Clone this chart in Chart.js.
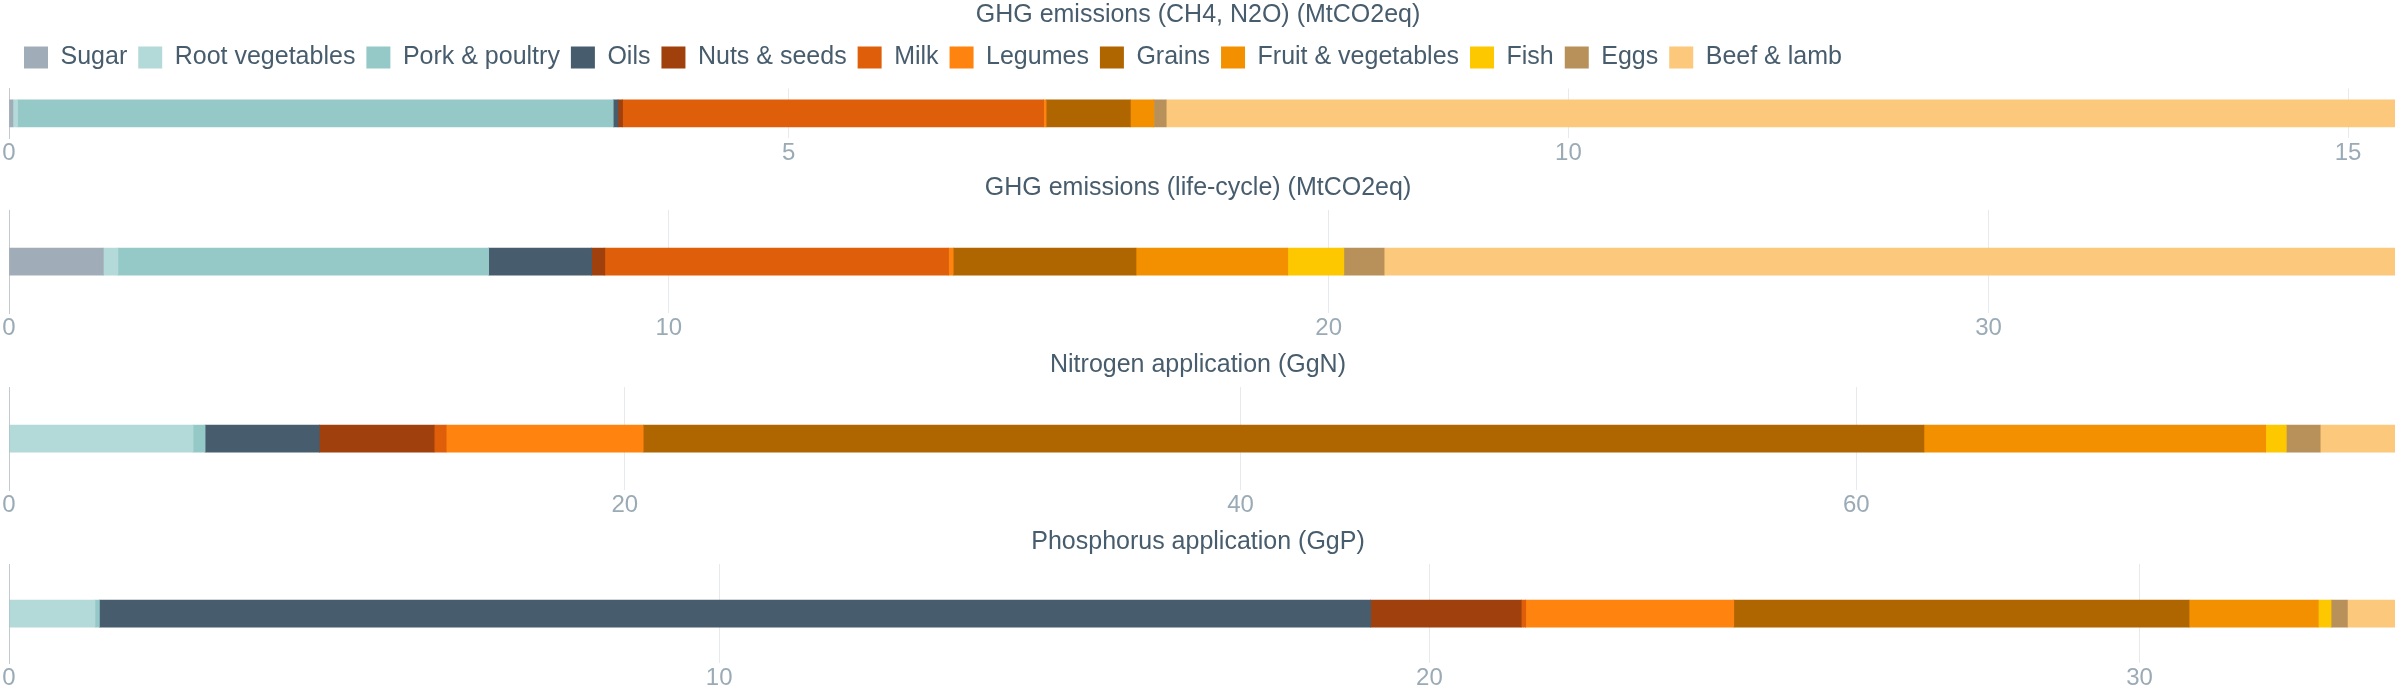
<!DOCTYPE html>
<html>
<head>
<meta charset="utf-8">
<script src="https://cdn.jsdelivr.net/npm/chart.js@4"></script>
<style>
    body { margin: 0; background: #ffffff; }
    .panel { position: relative; width: 2400px; }
</style>
</head>
<body>
<div class="panel" style="height:173px"><canvas id="ghgDirectChart"></canvas></div>
<div class="panel" style="height:177px"><canvas id="ghgLifeChart"></canvas></div>
<div class="panel" style="height:177px"><canvas id="nitrogenChart"></canvas></div>
<div class="panel" style="height:173px"><canvas id="phosphorusChart"></canvas></div>
<script>
const foodGroups = ['Sugar', 'Root vegetables', 'Pork & poultry', 'Oils', 'Nuts & seeds', 'Milk',
    'Legumes', 'Grains', 'Fruit & vegetables', 'Fish', 'Eggs', 'Beef & lamb'];
const groupColors = ['#a0adb9', '#b3dad8', '#95c9c8', '#475c6c', '#a0410d', '#df5e0a',
    '#ff830f', '#af6600', '#f39000', '#fdc800', '#b8915a', '#fbc87c'];

const ghgDirect = [0.025, 0.03, 3.82, 0.03, 0.03, 2.70, 0.016, 0.54, 0.15, 0, 0.08, 7.88];
const ghgLifeCycle = [1.43, 0.22, 5.62, 1.56, 0.20, 5.21, 0.07, 2.77, 2.30, 0.85, 0.61, 15.32];
const nitrogenUse = [0, 5.98, 0.39, 3.71, 3.73, 0.39, 6.40, 41.6, 11.1, 0.67, 1.10, 2.43];
const phosphorusUse = [0, 1.21, 0.063, 17.9, 2.12, 0.063, 2.93, 6.41, 1.82, 0.18, 0.23, 0.67];

const chartTitles = ['GHG emissions (CH4, N2O) (MtCO2eq)', 'GHG emissions (life-cycle) (MtCO2eq)',
    'Nitrogen application (GgN)', 'Phosphorus application (GgP)'];
const tickSteps = [5, 10, 20, 10];

Chart.defaults.font.family = '"Liberation Sans", Arial, sans-serif';
Chart.defaults.color = '#475c6c';

// push the plot a bit lower under the legend, and the legend a bit right
const legendSpacer = {
    id: 'legendSpacer',
    beforeInit(chart) {
        if (!chart.legend) return;
        const fit = chart.legend.fit;
        chart.legend.fit = function () {
            fit.bind(chart.legend)();
            this.height += 8.5;
        };
    },
    afterLayout(chart) {
        if (chart.legend) chart.legend.left += 12;
    }
};

function stackChart(id, title, values, step, showLegend) {
    const total = values.reduce((a, b) => a + b, 0);
    const datasets = foodGroups.map((name, i) => ({
        label: name,
        data: [values[i]],
        backgroundColor: groupColors[i],
        borderWidth: 0,
        barThickness: 27
    }));
    const config = {
        type: 'bar',
        data: {labels: [''], datasets: datasets},
        options: {
            indexAxis: 'y',
            responsive: true,
            maintainAspectRatio: false,
            animation: false,
            layout: {padding: {left: 1, right: 5, top: 0, bottom: showLegend ? 4 : 6}},
            plugins: {
                title: {
                    display: true,
                    text: title,
                    color: '#475c6c',
                    font: {size: 25, weight: 'normal'},
                    padding: {top: 0, bottom: showLegend ? 4 : 7}
                },
                legend: {
                    display: showLegend,
                    align: 'start',
                    labels: {
                        boxWidth: 24,
                        boxHeight: 22,
                        padding: 11,
                        color: '#475c6c',
                        font: {size: 25}
                    }
                },
                tooltip: {enabled: false}
            },
            scales: {
                x: {
                    stacked: true,
                    min: 0,
                    max: total,
                    grid: {color: '#e7eaed', drawTicks: false},
                    border: {display: false},
                    ticks: {stepSize: step, padding: 1, color: '#9aabb6', font: {size: 24}, includeBounds: false}
                },
                y: {
                    stacked: true,
                    grid: {display: false},
                    border: {display: true, color: '#c3c9ce'},
                    ticks: {display: false}
                }
            }
        },
        plugins: showLegend ? [legendSpacer] : []
    };
    let ctx = document.getElementById(id).getContext('2d');
    new Chart(ctx, config);
}

stackChart('ghgDirectChart', chartTitles[0], ghgDirect, tickSteps[0], true);
stackChart('ghgLifeChart', chartTitles[1], ghgLifeCycle, tickSteps[1], false);
stackChart('nitrogenChart', chartTitles[2], nitrogenUse, tickSteps[2], false);
stackChart('phosphorusChart', chartTitles[3], phosphorusUse, tickSteps[3], false);
</script>
</body>
</html>
